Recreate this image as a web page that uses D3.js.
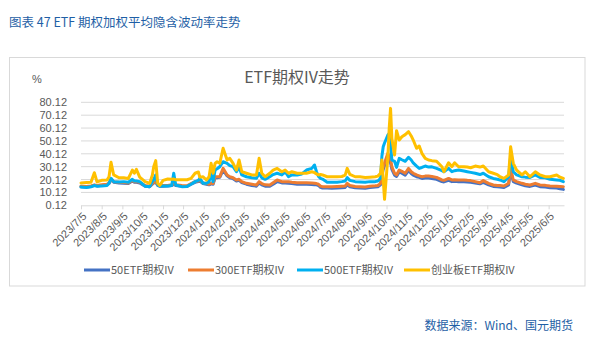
<!DOCTYPE html>
<html><head><meta charset="utf-8">
<script src="https://cdn.jsdelivr.net/npm/d3@7"></script>
<style>
html,body{margin:0;padding:0;background:#fff;}
svg{display:block;font-family:"Noto Sans CJK SC","Noto Sans",sans-serif;}
</style></head>
<body><svg id="c" width="610" height="345"></svg>
<script>
const dates = [
"2023-07-05","2023-07-13","2023-07-20","2023-07-25","2023-07-29","2023-08-05","2023-08-13","2023-08-16","2023-08-19","2023-08-23",
"2023-08-31","2023-09-07","2023-09-14","2023-09-20","2023-09-23","2023-09-26","2023-10-01","2023-10-09","2023-10-16","2023-10-20",
"2023-10-22","2023-10-25","2023-10-28","2023-10-31","2023-11-05","2023-11-12","2023-11-18","2023-11-21","2023-11-24","2023-12-03",
"2023-12-11","2023-12-17","2023-12-23","2023-12-28","2023-12-30","2024-01-04","2024-01-09","2024-01-13","2024-01-16","2024-01-19",
"2024-01-22","2024-01-25","2024-01-29","2024-02-03","2024-02-09","2024-02-13","2024-02-18","2024-02-23","2024-02-27","2024-03-02",
"2024-03-09","2024-03-17","2024-03-24","2024-03-28","2024-04-01","2024-04-06","2024-04-13","2024-04-18","2024-04-24","2024-05-01",
"2024-05-06","2024-05-11","2024-05-16","2024-05-24","2024-05-31","2024-06-07","2024-06-15","2024-06-19","2024-06-22","2024-06-25",
"2024-06-28","2024-07-01","2024-07-08","2024-07-15","2024-07-23","2024-07-30","2024-08-04","2024-08-07","2024-08-11","2024-08-19",
"2024-08-26","2024-09-03","2024-09-10","2024-09-18","2024-09-22","2024-09-26","2024-09-28","2024-09-30","2024-10-02","2024-10-07",
"2024-10-09","2024-10-11","2024-10-13","2024-10-17","2024-10-20","2024-10-24","2024-10-28","2024-11-02","2024-11-07","2024-11-11",
"2024-11-14","2024-11-19","2024-11-23","2024-11-27","2024-12-02","2024-12-07","2024-12-12","2024-12-19","2024-12-27","2024-12-30",
"2025-01-06","2025-01-11","2025-01-15","2025-01-21","2025-01-29","2025-02-03","2025-02-08","2025-02-15","2025-02-22","2025-02-27",
"2025-03-07","2025-03-14","2025-03-20","2025-03-24","2025-03-30","2025-04-06","2025-04-09","2025-04-13","2025-04-18","2025-04-26",
"2025-05-01","2025-05-08","2025-05-16","2025-05-23","2025-05-31","2025-06-07","2025-06-17","2025-06-22","2025-06-27"];

const iv50 = [
14.6,14.3,14.8,15.6,15.1,15.6,16.0,17.0,20.0,18.0,
17.5,17.3,17.0,19.0,18.0,18.0,17.5,15.0,14.6,16.5,
17.5,18.0,15.5,15.0,15.0,15.2,15.5,16.5,15.5,15.0,
14.8,16.5,18.0,18.5,19.0,17.0,16.5,16.0,16.8,16.5,
21.5,21.5,21.8,27.5,23.0,21.5,20.8,19.0,19.5,17.8,
16.5,15.5,15.0,17.5,16.0,15.0,15.0,16.5,18.5,17.5,
17.5,17.3,17.0,16.5,16.5,16.5,16.3,16.0,16.0,15.5,
14.0,13.5,13.5,13.3,13.5,13.8,14.0,16.0,14.5,13.8,
13.5,13.3,14.0,14.3,14.5,16.0,23.0,28.0,31.0,37.0,
35.0,33.0,28.0,23.5,22.5,26.0,25.0,23.5,27.0,24.8,
23.5,22.3,21.8,21.0,21.3,21.3,21.0,20.3,18.5,18.3,
19.5,18.5,18.8,18.5,18.5,18.3,18.0,17.5,16.8,18.0,
16.0,14.8,14.5,14.3,14.0,16.0,27.0,18.5,17.3,16.0,
15.3,14.8,15.8,14.6,14.3,13.8,13.5,13.0,12.5];

const iv300 = [
15.0,14.8,15.2,16.0,15.5,16.0,16.5,17.5,20.5,18.5,
18.0,17.8,17.5,19.5,18.5,18.5,18.0,15.5,15.0,17.0,
18.0,18.5,16.0,15.3,15.5,15.5,16.0,17.0,16.0,15.5,
15.3,17.0,18.5,19.0,19.5,17.5,17.0,16.5,17.5,17.0,
22.3,22.3,22.3,28.8,23.7,22.3,21.5,19.8,20.3,18.5,
17.2,16.5,15.9,18.5,17.0,16.0,15.9,17.7,19.8,18.5,
18.5,18.5,18.0,17.7,17.7,17.7,17.5,17.2,17.0,16.5,
15.0,14.6,14.6,14.6,14.8,15.0,15.2,17.2,15.5,14.8,
14.6,14.3,15.0,15.3,15.5,17.0,25.0,30.0,33.0,40.5,
38.0,36.0,30.0,25.0,23.7,27.5,26.5,25.0,28.8,26.2,
25.0,23.7,23.0,22.3,22.8,22.8,22.5,21.8,19.8,19.5,
21.0,19.8,20.0,19.8,19.8,19.5,19.3,18.5,17.7,19.3,
17.2,15.9,15.5,15.5,15.1,17.2,28.8,19.8,18.5,17.2,
16.5,15.9,17.2,15.9,15.6,15.1,15.0,14.8,14.6];

const iv500 = [
14.3,14.0,14.5,15.5,15.0,15.2,15.5,17.2,21.1,18.5,
18.2,18.5,18.0,20.3,19.0,19.0,18.5,15.0,14.6,18.5,
20.0,23.7,15.9,15.0,15.1,15.1,15.5,25.0,15.9,14.6,
14.8,16.5,18.5,19.5,21.1,17.2,17.2,18.5,25.0,18.5,
27.5,28.5,30.1,34.0,32.7,31.0,30.1,26.2,30.1,23.7,
22.3,21.5,21.1,25.0,21.5,20.3,22.3,24.0,25.0,23.7,
26.2,22.3,23.7,23.7,24.5,27.5,28.8,31.4,26.2,22.5,
21.1,20.5,18.0,18.0,18.0,18.5,19.0,21.6,19.5,18.5,
18.3,18.0,18.5,18.5,19.0,21.1,38.0,45.6,48.5,54.7,
56.0,47.0,35.3,34.3,29.6,36.6,35.5,34.3,37.4,35.3,
33.0,30.6,28.8,29.5,30.6,29.8,30.0,28.8,27.0,26.2,
28.8,26.2,27.0,27.5,26.7,26.2,25.7,25.0,24.0,25.0,
22.3,21.0,20.3,19.8,18.5,22.3,37.9,26.2,23.7,22.3,
22.0,21.8,23.7,21.8,21.5,20.3,19.8,19.5,18.5];

const ivCyb = [
17.5,17.8,18.0,25.4,18.3,19.5,19.8,22.3,33.5,23.7,
21.5,21.5,21.0,27.5,25.0,28.0,22.0,18.5,17.2,23.7,
30.1,34.8,17.2,15.5,19.5,20.5,20.3,20.5,20.0,20.0,
20.0,21.0,25.0,26.0,22.0,22.3,19.8,22.3,32.7,25.0,
32.7,34.0,32.7,44.4,35.3,36.6,32.7,27.5,35.3,26.2,
25.0,23.7,23.7,36.6,25.0,22.3,25.0,27.5,28.8,26.2,
27.5,25.0,26.2,25.0,25.0,25.0,26.2,25.5,24.5,23.7,
24.0,23.7,22.3,22.3,22.3,22.5,23.5,28.8,24.2,22.3,
22.3,21.8,22.0,22.3,22.8,25.0,35.3,20.0,4.8,38.0,
60.0,75.4,52.0,39.2,58.1,50.8,53.4,55.0,57.3,54.0,
50.8,44.4,46.2,40.5,36.6,35.3,34.8,34.3,30.1,26.2,
33.2,30.1,33.2,30.1,30.1,29.8,29.3,30.6,29.8,30.6,
26.2,25.0,24.0,22.3,21.0,23.7,45.6,32.7,27.5,23.7,
26.2,22.3,26.2,23.7,22.3,22.3,23.7,22.0,21.0];

const seriesNames = ["50ETF期权IV","300ETF期权IV","500ETF期权IV","创业板ETF期权IV"];
const seriesColors = ["#4472C4","#ED7D31","#00B0F0","#FFC000"];
const yTicks = [0.12,10.12,20.12,30.12,40.12,50.12,60.12,70.12,80.12];
const xTickDates = ["2023-07-05","2023-08-05","2023-09-05","2023-10-05","2023-11-05","2023-12-05",
"2024-01-05","2024-02-05","2024-03-05","2024-04-05","2024-05-05","2024-06-05","2024-07-05","2024-08-05",
"2024-09-05","2024-10-05","2024-11-05","2024-12-05","2025-01-05","2025-02-05","2025-03-05","2025-04-05",
"2025-05-05","2025-06-05"];
const pageTitle = "图表 47 ETF 期权加权平均隐含波动率走势";
const chartTitle = "ETF期权IV走势";
const yUnit = "%";
const sourceText = "数据来源：Wind、国元期货";

const parse = d3.timeParse("%Y-%m-%d");
const svg = d3.select("#c");
const L = 81, R = 564, T = 102.3, B = 205.3;
const x = d3.scaleTime().domain([parse("2023-07-05"), parse("2025-06-28")]).range([L, R]);
const y = d3.scaleLinear().domain([0.12, 80.12]).range([B, T]);
const gray = "#595959";
const numFont = "'Liberation Sans','DejaVu Sans',sans-serif";

svg.append("text").attr("x", 9).attr("y", 27).attr("font-size", 12.5).attr("fill", "#1F5FA6")
  .text(pageTitle);
svg.append("rect").attr("x", 9.5).attr("y", 57.5).attr("width", 575.5).attr("height", 228.5)
  .attr("fill", "none").attr("stroke", "#d9d9d9");
svg.append("text").attr("x", 297).attr("y", 83).attr("text-anchor", "middle").attr("font-size", 16)
  .attr("fill", gray).text(chartTitle);
svg.append("text").attr("x", 32).attr("y", 83).attr("font-size", 11).attr("fill", gray)
  .attr("font-family", numFont).text(yUnit);

// gridlines
svg.append("g").selectAll("line").data(yTicks.slice(1)).join("line")
  .attr("x1", L).attr("x2", R).attr("y1", d => y(d)).attr("y2", d => y(d))
  .attr("stroke", "#d9d9d9").attr("stroke-width", 1);

// y axis
const ya = svg.append("g").attr("transform", `translate(${L},0)`)
  .call(d3.axisLeft(y).tickValues(yTicks).tickFormat(d3.format(".2f")).tickSize(0).tickPadding(14));
ya.select(".domain").remove();
ya.selectAll("text").attr("fill", gray).attr("font-size", 11).attr("font-family", numFont);

// x axis
const xa = svg.append("g").attr("transform", `translate(0,${B})`)
  .call(d3.axisBottom(x).tickValues(xTickDates.map(parse)).tickFormat(d3.timeFormat("%Y/%-m/%-d")).tickSize(4).tickSizeOuter(0));
xa.select(".domain").attr("stroke", "#d9d9d9");
xa.selectAll(".tick line").attr("stroke", "#d9d9d9");
xa.selectAll("text").attr("fill", gray).attr("font-size", 11).attr("font-family", numFont)
  .attr("text-anchor", "end").attr("x", 0).attr("y", 0).attr("dy", "0.35em")
  .attr("transform", "translate(3,9) rotate(-45)");

// lines
const allSeries = [iv50, iv300, iv500, ivCyb];
const line = d3.line().x((d, i) => x(parse(dates[i]))).y(d => y(d));
allSeries.forEach((vals, k) => {
  svg.append("path").datum(vals).attr("d", line).attr("fill", "none")
    .attr("stroke", seriesColors[k]).attr("stroke-width", 3)
    .attr("stroke-linejoin", "round").attr("stroke-linecap", "round");
});

// legend
const legX = [84, 188, 297, 404];
const lg = svg.append("g");
seriesNames.forEach((n, k) => {
  lg.append("line").attr("x1", legX[k]).attr("x2", legX[k] + 26).attr("y1", 270).attr("y2", 270)
    .attr("stroke", seriesColors[k]).attr("stroke-width", 3);
  lg.append("text").attr("x", legX[k] + 27).attr("y", 274).attr("font-size", 11).attr("fill", gray).text(n);
});

svg.append("text").attr("x", 573).attr("y", 330).attr("text-anchor", "end").attr("font-size", 12)
  .attr("fill", "#1F5FA6").text(sourceText);
</script></body></html>
